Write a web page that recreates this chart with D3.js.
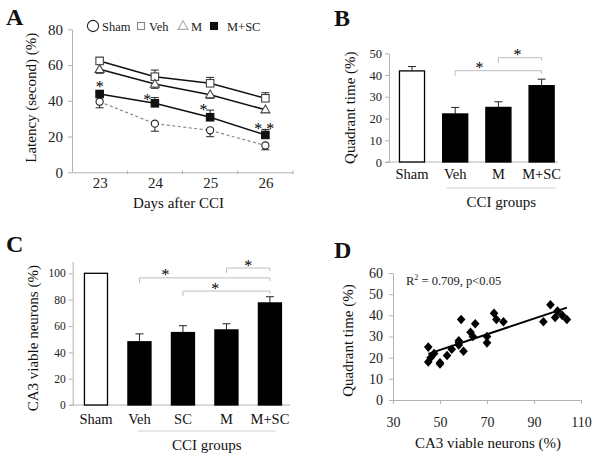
<!DOCTYPE html>
<html><head><meta charset="utf-8">
<script src="https://cdn.jsdelivr.net/npm/d3@7"></script>
<style>body{margin:0;background:#fff} svg{display:block} svg text{font-family:"Liberation Serif","Times New Roman",serif}</style>
</head><body><svg id="c" width="600" height="462"></svg>
<script>
// ---------- Panel A data ----------
const days = [23, 24, 25, 26];
const latencyTicks = [0, 20, 40, 60, 80];
const latencySham = [39.5, 27.2, 23.5, 15];
const latencyShamErr = [3.4, 4.2, 3.6, 2.4];
const latencyVeh = [62.3, 53.5, 49.8, 41.4];
const latencyVehErr = [2, 3.7, 3.3, 3.1];
const latencyM = [57.6, 49.4, 43.4, 35];
const latencyMErr = [2.2, 2.4, 2, 1.5];
const latencyMSC = [43.8, 38.6, 30.8, 20.9];
const latencyMSCErr = [1.8, 3.2, 4, 3.1];
const latencyStars = [
  {day: 23, value: 49.5, text: "*"},
  {day: 23.86, value: 42.3, text: "*"},
  {day: 24.88, value: 36.4, text: "*"},
  {day: 25.98, value: 26, text: "* *"}
];
// ---------- Panel B data ----------
const groupsB = ["Sham", "Veh", "M", "M+SC"];
const quadrantTime = [41.9, 22.1, 25.1, 35.1];
const quadrantErr = [2, 3, 2.6, 3];
const quadrantTicks = [0, 10, 20, 30, 40, 50];
const bracketsB = [
  {from: "Veh", to: "M+SC", level: 42, t: 0.28},
  {from: "M", to: "M+SC", level: 48, t: 0.44}
];
// ---------- Panel C data ----------
const groupsC = ["Sham", "Veh", "SC", "M", "M+SC"];
const viableNeurons = [100, 48, 55, 57, 77.5];
const viableErr = [0, 6, 5.2, 4.7, 4.7];
const viableTicks = [0, 20, 40, 60, 80, 100];
const bracketsC = [
  {from: "Veh", to: "M+SC", level: 96.5, t: 0.2},
  {from: "M", to: "M+SC", level: 104, t: 0.5},
  {from: "SC", to: "M+SC", level: 86.5, t: 0.37}
];
// ---------- Panel D data ----------
const corrX = [45, 45, 46, 47.5, 50, 50, 53, 55, 58, 58, 58, 59, 60, 63, 64, 65, 70, 70, 73, 74, 77, 94, 97, 99, 100, 102, 104];
const corrY = [25, 18, 20, 22, 17.6, 17, 21, 24, 28, 27, 26, 38, 23, 32, 30, 36, 30, 27, 41, 38, 37, 37, 45, 39, 42, 40, 38];
const corrXTicks = [30, 50, 70, 90, 110];
const corrYTicks = [0, 10, 20, 30, 40, 50, 60];

const FONT = '"Liberation Serif","Times New Roman",serif';
const AX = "#b3b3b3";
const INK = "#111";
const svg = d3.select("#c");
svg.append("rect").attr("width", 600).attr("height", 462).attr("fill", "#fff");

function styleAxis(g, fs) {
  g.attr("font-family", FONT);
  g.select(".domain").attr("stroke", AX);
  g.selectAll(".tick line").attr("stroke", AX);
  g.selectAll(".tick text").attr("fill", "#222").attr("font-family", FONT).style("font-family", FONT).attr("font-size", fs);
}
function txt(g, x, y, s, fs, opts = {}) {
  const t = g.append("text").attr("x", x).attr("y", y).text(s)
    .attr("font-family", FONT).attr("font-size", fs).attr("fill", opts.fill || INK)
    .attr("text-anchor", opts.anchor || "start");
  if (opts.weight) t.attr("font-weight", opts.weight);
  if (opts.rotate) t.attr("transform", `rotate(-90,${x},${y})`);
  return t;
}
function star(g, x, y, s, fs) {
  return g.append("text").attr("x", x).attr("y", y).attr("dy", "0.5em").text(s)
    .attr("font-family", FONT).attr("font-size", fs).attr("fill", "#000").attr("text-anchor", "middle");
}

// ================= Panel A =================
{
  const g = svg.append("g");
  const x = d3.scaleLinear().domain([22.5, 26.5]).range([72, 293]);
  const y = d3.scaleLinear().domain([0, 80]).range([172.3, 29.3]);
  g.append("g").attr("transform", `translate(${x.range()[0]},0)`)
    .call(d3.axisLeft(y).tickValues(latencyTicks).tickSize(4).tickSizeOuter(0).tickPadding(5))
    .call(styleAxis, 15);
  g.append("g").attr("transform", `translate(0,${y(0)})`)
    .call(d3.axisBottom(x).tickValues(days).tickSize(0).tickSizeOuter(0).tickPadding(5).tickFormat(d3.format("d")))
    .call(styleAxis, 15);
  g.selectAll(".bt").data(d3.range(23.5, 27, 1)).join("line")
    .attr("x1", d => x(d)).attr("x2", d => x(d)).attr("y1", y(0) - 2).attr("y2", y(0) + 2).attr("stroke", AX);

  const series = [
    {name: "Sham", values: latencySham, err: latencyShamErr, dir: -1, shape: "circle"},
    {name: "Veh", values: latencyVeh, err: latencyVehErr, dir: 1, shape: "square"},
    {name: "M", values: latencyM, err: latencyMErr, dir: -1, shape: "triangle"},
    {name: "M+SC", values: latencyMSC, err: latencyMSCErr, dir: 1, shape: "fsquare"}
  ];
  const line = d3.line().x((d, i) => x(days[i])).y(d => y(d));
  series.forEach(s => {
    g.append("path").attr("d", line(s.values)).attr("fill", "none")
      .attr("stroke", s.name === "Sham" ? "#8a8a8a" : "#111")
      .attr("stroke-width", s.name === "Sham" ? 1.2 : 1.5)
      .attr("stroke-dasharray", s.name === "Sham" ? "3,2.5" : null);
  });
  series.forEach(s => {
    s.values.forEach((v, i) => {
      const cx = x(days[i]), y0 = y(v), y1 = y(v + s.dir * s.err[i]);
      g.append("line").attr("x1", cx).attr("x2", cx).attr("y1", y0).attr("y2", y1).attr("stroke", "#222").attr("stroke-width", 1);
      g.append("line").attr("x1", cx - 4).attr("x2", cx + 4).attr("y1", y1).attr("y2", y1).attr("stroke", "#222").attr("stroke-width", 1);
    });
  });
  function marker(gg, shape, cx, cy, legend) {
    if (shape === "circle") {
      gg.append("circle").attr("cx", cx).attr("cy", cy).attr("r", legend ? 5.6 : 3.6)
        .attr("fill", "#fff").attr("stroke", "#222").attr("stroke-width", 1.1);
    } else if (shape === "square" || shape === "fsquare") {
      const sz = legend ? 7 : 7.5;
      gg.append("rect").attr("x", cx - sz / 2).attr("y", cy - sz / 2).attr("width", sz).attr("height", sz)
        .attr("fill", shape === "fsquare" ? "#111" : "#fff")
        .attr("stroke", shape === "fsquare" ? "#111" : (legend ? "#888" : "#444")).attr("stroke-width", 1.1);
    } else {
      const sz = legend ? 10 : 9;
      gg.append("path").attr("d", d3.symbol().type(d3.symbolTriangle).size(sz * sz * Math.sqrt(3) / 4)())
        .attr("transform", `translate(${cx},${cy + 0.5})`)
        .attr("fill", "#fff").attr("stroke", legend ? "#aaa" : "#444").attr("stroke-width", 1.1);
    }
  }
  series.forEach(s => s.values.forEach((v, i) => marker(g, s.shape, x(days[i]), y(v), false)));
  latencyStars.forEach(d => star(g, x(d.day), y(d.value), d.text, 16));

  // legend
  const legendX = [93, 141, 183, 214];
  const legendTextX = [102, 149, 191, 227];
  series.forEach((s, i) => {
    marker(g, s.shape, legendX[i], 26, true);
    txt(g, legendTextX[i], 30.5, s.name, 12.5, {fill: "#222"});
  });
  txt(g, 36, (29.3 + 172.3) / 2 - 3, "Latency (second) (%)", 15, {anchor: "middle", rotate: true});
  txt(g, (72 + 293) / 2 - 4, 208, "Days after CCI", 15, {anchor: "middle"});
  txt(g, 6, 25, "A", 24, {weight: "bold"});
}

// ============ bar panel helper ============
function barPanel(cfg) {
  const g = svg.append("g");
  const x = d3.scaleBand().domain(cfg.groups).range(cfg.xRange).paddingInner(cfg.pin).paddingOuter(cfg.pout);
  const y = d3.scaleLinear().domain(cfg.yDomain).range(cfg.yRange);
  g.append("g").attr("transform", `translate(${cfg.xRange[0]},0)`)
    .call(d3.axisLeft(y).tickValues(cfg.ticks).tickSize(4).tickSizeOuter(0).tickPadding(3))
    .call(styleAxis, cfg.tickFs);
  const bx = g.append("g").attr("transform", `translate(0,${y(0)})`)
    .call(d3.axisBottom(x).tickSize(0).tickSizeOuter(0).tickPadding(cfg.labelPad))
    .call(styleAxis, 14.5);
  bx.selectAll(".tick text").attr("fill", INK);
  bx.select(".domain").attr("d", `M${cfg.xRange[0] - 3},0H${cfg.axisEnd}`);
  const bw = x.bandwidth();
  cfg.groups.forEach((grp, i) => {
    const v = cfg.values[i];
    g.append("rect").attr("x", x(grp)).attr("y", y(v)).attr("width", bw).attr("height", y(0) - y(v))
      .attr("fill", i === 0 ? "#fff" : "#000").attr("stroke", "#000").attr("stroke-width", 1.3);
    if (cfg.err[i] > 0) {
      const cx = x(grp) + bw / 2, y1 = y(v + cfg.err[i]);
      g.append("line").attr("x1", cx).attr("x2", cx).attr("y1", y(v)).attr("y2", y1).attr("stroke", "#222");
      g.append("line").attr("x1", cx - 4).attr("x2", cx + 4).attr("y1", y1).attr("y2", y1).attr("stroke", "#222");
    }
  });
  cfg.brackets.forEach(b => {
    const x1 = x(b.from) + bw / 2, x2 = x(b.to) + bw / 2, yy = y(b.level);
    g.append("path").attr("d", `M${x1},${yy + 5}V${yy}H${x2}V${yy + 3}`).attr("fill", "none").attr("stroke", "#bdbdbd").attr("stroke-width", 1);
    star(g, x1 + (x2 - x1) * b.t, yy - 5.5, "*", 16);
  });
  const lx1 = x("Veh") + cfg.lineInset[0], lx2 = x("M+SC") + bw + cfg.lineInset[1];
  g.append("line").attr("x1", lx1).attr("x2", lx2).attr("y1", cfg.lineY).attr("y2", cfg.lineY).attr("stroke", "#cfcfcf");
  txt(g, (lx1 + lx2) / 2, cfg.lineY + 19, "CCI groups", 15, {anchor: "middle"});
  txt(g, cfg.yTitleX, (cfg.yRange[0] + cfg.yRange[1]) / 2 + cfg.yTitleDy, cfg.yTitle, 15, {anchor: "middle", rotate: true});
  return g;
}

// ================= Panel B =================
{
  barPanel({
    groups: groupsB, values: quadrantTime, err: quadrantErr, ticks: quadrantTicks,
    xRange: [389, 564.6], pin: 0.42, pout: 0.242, axisEnd: 558,
    yDomain: [0, 50], yRange: [162, 53.3], tickFs: 12.5, labelPad: 7,
    brackets: bracketsB, lineInset: [4, 2], lineY: 188,
    yTitle: "Quadrant time (%)", yTitleX: 355, yTitleDy: 0
  });
  txt(svg, 334, 26, "B", 24, {weight: "bold"});
}

// ================= Panel C =================
{
  barPanel({
    groups: groupsC, values: viableNeurons, err: viableErr, ticks: viableTicks,
    xRange: [72.7, 293.2], pin: 0.47, pout: 0.27, axisEnd: 290,
    yDomain: [0, 109], yRange: [405, 405 - 1.317 * 109], tickFs: 11.5, labelPad: 9,
    brackets: bracketsC, lineInset: [10, -6], lineY: 431,
    yTitle: "CA3 viable neurons (%)", yTitleX: 38, yTitleDy: 5
  });
  txt(svg, 6, 252, "C", 24, {weight: "bold"});
}

// ================= Panel D =================
{
  const g = svg.append("g");
  const x = d3.scaleLinear().domain([30, 110]).range([393, 581]);
  const y = d3.scaleLinear().domain([0, 60]).range([400, 273]);
  g.append("g").attr("transform", `translate(${x(30)},0)`)
    .call(d3.axisLeft(y).tickValues(corrYTicks).tickSize(4).tickSizeOuter(0).tickPadding(6))
    .call(styleAxis, 14);
  g.append("g").attr("transform", `translate(0,${y(0)})`)
    .call(d3.axisBottom(x).tickValues(corrXTicks).tickSize(4).tickSizeOuter(0).tickPadding(13))
    .call(styleAxis, 14);
  // least-squares regression line computed from the points
  const mx = d3.mean(corrX), my = d3.mean(corrY);
  const sxy = d3.sum(corrX, (v, i) => (v - mx) * (corrY[i] - my));
  const sxx = d3.sum(corrX, v => (v - mx) * (v - mx));
  const slope = sxy / sxx, icpt = my - slope * mx;
  const [xmin, xmax] = d3.extent(corrX);
  g.append("line").attr("x1", x(xmin)).attr("x2", x(xmax))
    .attr("y1", y(icpt + slope * xmin)).attr("y2", y(icpt + slope * xmax))
    .attr("stroke", "#000").attr("stroke-width", 2);
  corrX.forEach((v, i) => {
    g.append("path").attr("d", "M0,-4.8L4.3,0L0,4.8L-4.3,0Z")
      .attr("transform", `translate(${x(v)},${y(corrY[i])})`).attr("fill", "#000");
  });
  const r = g.append("text").attr("x", 406).attr("y", 285).attr("font-family", FONT).attr("font-size", 12.5).attr("fill", "#222");
  r.append("tspan").text("R");
  r.append("tspan").attr("font-size", 8).attr("dy", -5).text("2");
  r.append("tspan").attr("dy", 5).text(" = 0.709, p<0.05");
  txt(g, 353, (273 + 400) / 2 + 4, "Quadrant time (%)", 15, {anchor: "middle", rotate: true});
  txt(g, 488, 448, "CA3 viable neurons (%)", 15, {anchor: "middle"});
  txt(g, 334, 258, "D", 24, {weight: "bold"});
}
</script>
</body></html>
